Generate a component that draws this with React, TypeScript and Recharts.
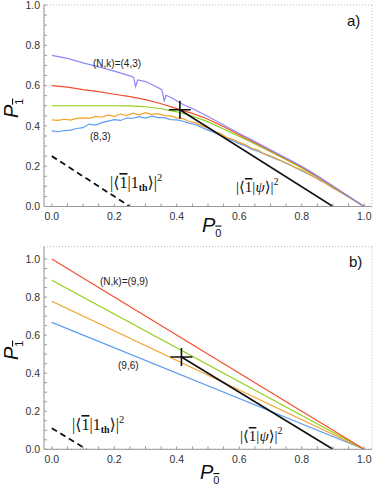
import React from "react";
import { ComposedChart, Line, Scatter, XAxis, YAxis, CartesianGrid } from "recharts";

const MAJOR_TICKS = [0, 0.2, 0.4, 0.6, 0.8, 1];
const MINOR_TICKS = [
  0, 0.05, 0.1, 0.15, 0.2, 0.25, 0.3, 0.35, 0.4, 0.45, 0.5,
  0.55, 0.6, 0.65, 0.7, 0.75, 0.8, 0.85, 0.9, 0.95, 1,
];
const MAJOR_LABELS = ["0.0", "0.2", "0.4", "0.6", "0.8", "1.0"];

// ---------- panel a) ----------
const purpleA = [
  { x: 0, y: 0.75 }, { x: 0.05, y: 0.735 }, { x: 0.1, y: 0.713 }, { x: 0.15, y: 0.693 },
  { x: 0.2, y: 0.672 }, { x: 0.25, y: 0.648 }, { x: 0.262, y: 0.641 }, { x: 0.268, y: 0.595 },
  { x: 0.275, y: 0.628 }, { x: 0.3, y: 0.62 }, { x: 0.33, y: 0.598 }, { x: 0.352, y: 0.58 },
  { x: 0.36, y: 0.525 }, { x: 0.366, y: 0.552 }, { x: 0.38, y: 0.542 }, { x: 0.4, y: 0.525 },
  { x: 0.42, y: 0.506 }, { x: 0.45, y: 0.486 }, { x: 0.5, y: 0.447 }, { x: 0.55, y: 0.404 },
  { x: 0.6, y: 0.362 }, { x: 0.65, y: 0.322 }, { x: 0.7, y: 0.282 }, { x: 0.75, y: 0.241 },
  { x: 0.8, y: 0.2 }, { x: 0.85, y: 0.152 }, { x: 0.9, y: 0.102 }, { x: 0.95, y: 0.051 },
  { x: 1, y: 0 },
];
const redA = [
  { x: 0, y: 0.6 }, { x: 0.05, y: 0.592 }, { x: 0.1, y: 0.58 }, { x: 0.15, y: 0.57 },
  { x: 0.2, y: 0.557 }, { x: 0.25, y: 0.545 }, { x: 0.3, y: 0.53 }, { x: 0.35, y: 0.51 },
  { x: 0.4, y: 0.486 }, { x: 0.45, y: 0.462 }, { x: 0.5, y: 0.433 }, { x: 0.55, y: 0.396 },
  { x: 0.6, y: 0.356 }, { x: 0.65, y: 0.317 }, { x: 0.7, y: 0.277 }, { x: 0.75, y: 0.237 },
  { x: 0.8, y: 0.196 }, { x: 0.85, y: 0.149 }, { x: 0.9, y: 0.1 }, { x: 0.95, y: 0.05 },
  { x: 1, y: 0 },
];
const greenA = [
  { x: 0, y: 0.5 }, { x: 0.1, y: 0.5 }, { x: 0.2, y: 0.5 }, { x: 0.25, y: 0.499 },
  { x: 0.3, y: 0.495 }, { x: 0.35, y: 0.485 }, { x: 0.4, y: 0.47 }, { x: 0.45, y: 0.449 },
  { x: 0.5, y: 0.42 }, { x: 0.55, y: 0.385 }, { x: 0.6, y: 0.348 }, { x: 0.65, y: 0.31 },
  { x: 0.7, y: 0.272 }, { x: 0.75, y: 0.232 }, { x: 0.8, y: 0.191 }, { x: 0.85, y: 0.146 },
  { x: 0.9, y: 0.098 }, { x: 0.95, y: 0.049 }, { x: 1, y: 0 },
];
const orangeA = [
  { x: 0, y: 0.43 }, { x: 0.02, y: 0.427 }, { x: 0.04, y: 0.433 }, { x: 0.06, y: 0.429 },
  { x: 0.08, y: 0.437 }, { x: 0.1, y: 0.44 }, { x: 0.12, y: 0.437 }, { x: 0.14, y: 0.447 },
  { x: 0.16, y: 0.443 }, { x: 0.18, y: 0.453 }, { x: 0.2, y: 0.447 }, { x: 0.22, y: 0.459 },
  { x: 0.24, y: 0.451 }, { x: 0.26, y: 0.463 }, { x: 0.28, y: 0.455 }, { x: 0.3, y: 0.466 },
  { x: 0.32, y: 0.457 }, { x: 0.34, y: 0.461 }, { x: 0.36, y: 0.451 }, { x: 0.38, y: 0.45 },
  { x: 0.4, y: 0.44 }, { x: 0.42, y: 0.436 }, { x: 0.44, y: 0.422 }, { x: 0.46, y: 0.416 },
  { x: 0.48, y: 0.4 }, { x: 0.5, y: 0.39 }, { x: 0.52, y: 0.372 }, { x: 0.54, y: 0.362 },
  { x: 0.56, y: 0.342 }, { x: 0.58, y: 0.334 }, { x: 0.6, y: 0.318 }, { x: 0.62, y: 0.306 },
  { x: 0.64, y: 0.289 }, { x: 0.66, y: 0.28 }, { x: 0.68, y: 0.261 }, { x: 0.7, y: 0.252 },
  { x: 0.72, y: 0.237 }, { x: 0.74, y: 0.223 }, { x: 0.76, y: 0.21 }, { x: 0.78, y: 0.193 },
  { x: 0.8, y: 0.181 }, { x: 0.82, y: 0.164 }, { x: 0.84, y: 0.146 }, { x: 0.86, y: 0.13 },
  { x: 0.88, y: 0.112 }, { x: 0.9, y: 0.093 }, { x: 0.92, y: 0.075 }, { x: 0.94, y: 0.057 },
  { x: 0.96, y: 0.038 }, { x: 0.98, y: 0.019 }, { x: 1, y: 0 },
];
const blueA = [
  { x: 0, y: 0.375 }, { x: 0.02, y: 0.371 }, { x: 0.04, y: 0.377 }, { x: 0.06, y: 0.379 },
  { x: 0.08, y: 0.387 }, { x: 0.1, y: 0.391 }, { x: 0.12, y: 0.409 }, { x: 0.14, y: 0.404 },
  { x: 0.16, y: 0.416 }, { x: 0.18, y: 0.424 }, { x: 0.2, y: 0.431 }, { x: 0.22, y: 0.427 },
  { x: 0.24, y: 0.439 }, { x: 0.26, y: 0.438 }, { x: 0.28, y: 0.446 }, { x: 0.3, y: 0.439 },
  { x: 0.32, y: 0.448 }, { x: 0.34, y: 0.441 }, { x: 0.36, y: 0.441 }, { x: 0.38, y: 0.431 },
  { x: 0.4, y: 0.43 }, { x: 0.42, y: 0.423 }, { x: 0.44, y: 0.414 }, { x: 0.46, y: 0.406 },
  { x: 0.48, y: 0.392 }, { x: 0.5, y: 0.379 }, { x: 0.52, y: 0.367 }, { x: 0.54, y: 0.352 },
  { x: 0.56, y: 0.339 }, { x: 0.58, y: 0.326 }, { x: 0.6, y: 0.312 }, { x: 0.62, y: 0.3 },
  { x: 0.64, y: 0.285 }, { x: 0.66, y: 0.274 }, { x: 0.68, y: 0.261 }, { x: 0.7, y: 0.247 },
  { x: 0.72, y: 0.235 }, { x: 0.74, y: 0.222 }, { x: 0.76, y: 0.208 }, { x: 0.78, y: 0.192 },
  { x: 0.8, y: 0.178 }, { x: 0.82, y: 0.163 }, { x: 0.84, y: 0.146 }, { x: 0.86, y: 0.128 },
  { x: 0.88, y: 0.113 }, { x: 0.9, y: 0.092 }, { x: 0.92, y: 0.076 }, { x: 0.94, y: 0.056 },
  { x: 0.96, y: 0.039 }, { x: 0.98, y: 0.019 }, { x: 1, y: 0 },
];
const psiA = [{ x: 0.41, y: 0.48 }, { x: 0.9, y: 0 }];
const thermalA = [{ x: 0, y: 0.25 }, { x: 0.25, y: 0 }];
const crossA = [{ x: 0.41, y: 0.48 }];

// ---------- panel b) ----------
const redB = [{ x: 0, y: 1.0 }, { x: 1, y: 0 }];
const greenB = [{ x: 0, y: 0.889 }, { x: 1, y: 0 }];
const orangeB = [{ x: 0, y: 0.778 }, { x: 1, y: 0 }];
const blueB = [{ x: 0, y: 0.667 }, { x: 1, y: 0 }];
const psiB = [{ x: 0.415, y: 0.485 }, { x: 0.9, y: 0 }];
const thermalB = [{ x: 0, y: 0.111 }, { x: 0.111, y: 0 }];
const crossB = [{ x: 0.415, y: 0.485 }];

const C = {
  purple: "#8f87f5",
  red: "#f2502d",
  green: "#8fd016",
  orange: "#f3a12b",
  blue: "#5e9cef",
};

const tickStyle = { fontFamily: "'Liberation Sans', Arial, sans-serif", fontSize: 10.5, fill: "#333" };
const frame = "#999";

const majorLabel = (v: number) => {
  const i = MAJOR_TICKS.findIndex((m) => Math.abs(m - v) < 1e-6);
  return i >= 0 ? MAJOR_LABELS[i] : "";
};

const EmptyTick = () => null;

const CrossShape = (props: any) => {
  const { cx, cy } = props;
  return (
    <g>
      <line x1={cx - 11} x2={cx + 11} y1={cy} y2={cy} stroke="#111" strokeWidth={1.6} />
      <line x1={cx} x2={cx} y1={cy - 9} y2={cy + 9} stroke="#111" strokeWidth={1.6} />
    </g>
  );
};

function Panel(props: {
  height: number;
  marginTop: number;
  xAxisHeight: number;
  yMax: number;
  series: { data: { x: number; y: number }[]; color: string; width?: number; dash?: string }[];
  cross: { x: number; y: number }[];
}) {
  const { height, marginTop, xAxisHeight, yMax, series, cross } = props;
  return (
    <ComposedChart width={374} height={height} margin={{ top: marginTop, right: 2, bottom: 0, left: 0 }}>
      <CartesianGrid stroke="#bbb" strokeDasharray="1 2" xAxisId="top" yAxisId="right" />
      <XAxis
        dataKey="x"
        type="number"
        domain={[-0.025, 1.025]}
        ticks={MINOR_TICKS}
        interval={0}
        tickFormatter={majorLabel}
        height={xAxisHeight}
        tickLine={{ stroke: frame }}
        tickSize={-3}
        tickMargin={9.5}
        stroke={frame}
        tick={tickStyle}
        allowDataOverflow
      />
      <XAxis
        xAxisId="top"
        orientation="top"
        type="number"
        domain={[-0.025, 1.025]}
        ticks={MAJOR_TICKS}
        interval={0}
        height={0}
        tick={<EmptyTick />}
        tickLine={{ stroke: frame }}
        tickSize={-4}
        stroke={frame}
      />
      <YAxis
        type="number"
        domain={[0, yMax]}
        ticks={MINOR_TICKS}
        interval={0}
        tickFormatter={majorLabel}
        width={44}
        tickLine={{ stroke: frame }}
        tickSize={-3}
        tickMargin={7}
        stroke={frame}
        tick={tickStyle}
        allowDataOverflow
      />
      <YAxis
        yAxisId="right"
        orientation="right"
        type="number"
        domain={[0, yMax]}
        ticks={MAJOR_TICKS}
        interval={0}
        width={0}
        tick={<EmptyTick />}
        tickLine={{ stroke: frame }}
        tickSize={-4}
        stroke={frame}
      />
      {series.map((s, i) => (
        <Line
          key={i}
          data={s.data}
          dataKey="y"
          type="linear"
          stroke={s.color}
          strokeWidth={s.width ?? 1.2}
          strokeDasharray={s.dash}
          dot={false}
          activeDot={false}
          isAnimationActive={false}
        />
      ))}
      <Scatter data={cross} dataKey="y" shape={<CrossShape />} isAnimationActive={false} />
    </ComposedChart>
  );
}

const serif = "'Liberation Serif', 'DejaVu Serif', serif";
const sans = "'Liberation Sans', Arial, sans-serif";
const ink = "#111";
const over = { textDecoration: "overline" } as React.CSSProperties;

function Ket1th(props: { x: number; y: number }) {
  return (
    <text x={props.x} y={props.y} fontFamily={serif} fontSize={16} fill={ink}>
      <tspan fill={ink}>|⟨</tspan>
      <tspan fill={ink} style={over}>1</tspan>
      <tspan fill={ink}>|1</tspan>
      <tspan fill={ink} fontSize={10} fontWeight="bold" dy={2.5}>th</tspan>
      <tspan fill={ink} dy={-2.5}>⟩|</tspan>
      <tspan fill={ink} fontSize={10.5} dy={-7.5}>2</tspan>
    </text>
  );
}
function KetPsi(props: { x: number; y: number }) {
  return (
    <text x={props.x} y={props.y} fontFamily={serif} fontSize={15} fill={ink}>
      <tspan fill={ink}>|⟨</tspan>
      <tspan fill={ink} style={over}>1</tspan>
      <tspan fill={ink}>|</tspan>
      <tspan fill={ink} fontStyle="italic">ψ</tspan>
      <tspan fill={ink}>⟩|</tspan>
      <tspan fill={ink} fontSize={10} dy={-7}>2</tspan>
    </text>
  );
}
function YLabel(props: { x: number; y: number }) {
  return (
    <text transform={`translate(${props.x},${props.y}) rotate(-90)`} fontFamily={sans} fontSize={20} fontStyle="italic" fill={ink}>
      P<tspan fontSize={11} fontStyle="normal" dy={5} style={over}>1</tspan>
    </text>
  );
}
function XLabel(props: { x: number; y: number }) {
  return (
    <text x={props.x} y={props.y} fontFamily={sans} fontSize={20} fontStyle="italic" fill={ink}>
      P<tspan fontSize={11} fontStyle="normal" dy={5} style={over}>0</tspan>
    </text>
  );
}

export default function App() {
  return (
    <div style={{ position: "absolute", left: 0, top: 0, width: 374, height: 489, background: "#fff", overflow: "hidden" }}>
      <div style={{ position: "absolute", left: 0, top: 0 }}>
        <Panel
          height={240}
          marginTop={5}
          xAxisHeight={33.5}
          yMax={1}
          cross={crossA}
          series={[
            { data: blueA, color: C.blue },
            { data: orangeA, color: C.orange },
            { data: greenA, color: C.green },
            { data: redA, color: C.red },
            { data: purpleA, color: C.purple },
            { data: psiA, color: "#111", width: 1.6 },
            { data: thermalA, color: "#111", width: 1.8, dash: "6 4" },
          ]}
        />
      </div>
      <div style={{ position: "absolute", left: 0, top: 240 }}>
        <Panel
          height={249}
          marginTop={6.7}
          xAxisHeight={39.7}
          yMax={1.065}
          cross={crossB}
          series={[
            { data: blueB, color: C.blue },
            { data: orangeB, color: C.orange },
            { data: greenB, color: C.green },
            { data: redB, color: C.red },
            { data: psiB, color: "#111", width: 1.6 },
            { data: thermalB, color: "#111", width: 1.8, dash: "6 4" },
          ]}
        />
      </div>
      <svg width={374} height={489} style={{ position: "absolute", left: 0, top: 0, pointerEvents: "none" }}>
        {/* panel a */}
        <text x={93} y={67} fontFamily={sans} fontSize={10} fill="#222">(N,k)=(4,3)</text>
        <text x={90} y={140} fontFamily={sans} fontSize={10} fill="#222">(8,3)</text>
        <Ket1th x={110} y={188} />
        <KetPsi x={236} y={192} />
        <text x={347} y={25.5} fontFamily={sans} fontSize={15} fill={ink}>a)</text>
        <YLabel x={18} y={118} />
        <XLabel x={202} y={231.5} />
        {/* panel b */}
        <text x={100} y={285} fontFamily={sans} fontSize={10} fill="#222">(N,k)=(9,9)</text>
        <text x={118} y={369} fontFamily={sans} fontSize={10} fill="#222">(9,6)</text>
        <Ket1th x={72} y={430} />
        <KetPsi x={240} y={441} />
        <text x={349} y={267} fontFamily={sans} fontSize={15} fill={ink}>b)</text>
        <YLabel x={18} y={360} />
        <XLabel x={200} y={479} />
      </svg>
    </div>
  );
}
